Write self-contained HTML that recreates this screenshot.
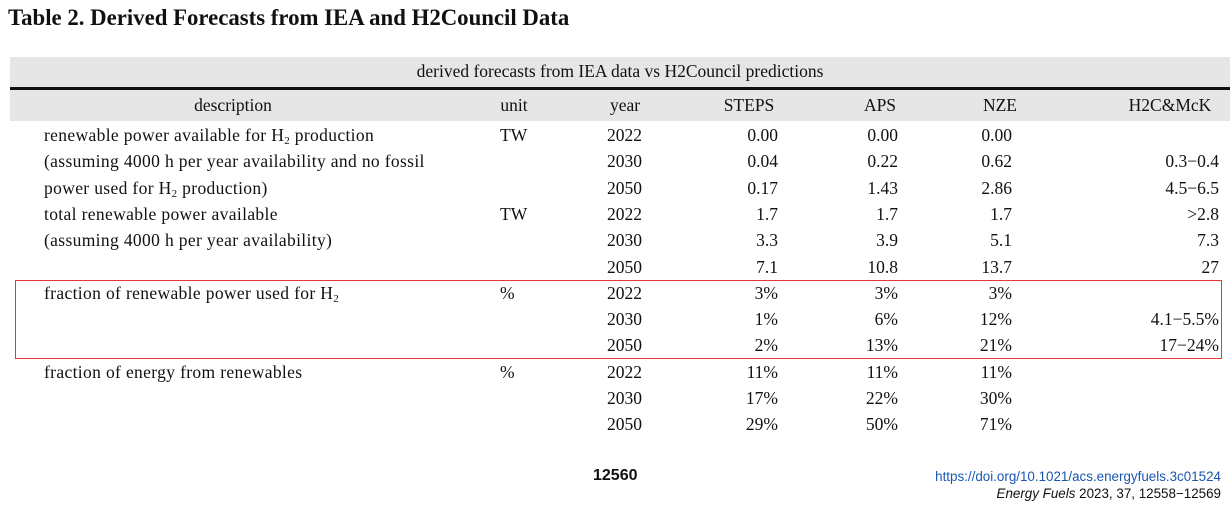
<!DOCTYPE html>
<html><head><meta charset="utf-8"><style>
body{margin:0;width:1230px;height:508px;background:#fff;position:relative;overflow:hidden;font-family:"Liberation Serif",serif;color:#111}
.a{position:absolute;white-space:nowrap;font-size:17.5px;line-height:20px}
.r{text-align:right}
.c{text-align:center}
.d{letter-spacing:0.35px}
sub{font-size:11px;vertical-align:-3px;line-height:0}
</style></head><body>
<div class="a" style="left:8px;top:5px;font-size:22.8px;font-weight:bold;line-height:26px">Table 2. Derived Forecasts from IEA and H2Council Data</div>
<div style="position:absolute;left:10px;top:57px;width:1220px;height:30px;background:#e6e6e6"></div>
<div style="position:absolute;left:10px;top:87px;width:1220px;height:3px;background:#111"></div>
<div style="position:absolute;left:10px;top:90px;width:1220px;height:31px;background:#e6e6e6"></div>
<div class="a c" style="left:10px;width:1220px;top:61px">derived forecasts from IEA data vs H2Council predictions</div>
<div class="a c" style="left:133px;width:200px;top:95px">description</div>
<div class="a c" style="left:484px;width:60px;top:95px">unit</div>
<div class="a c" style="left:595px;width:60px;top:95px">year</div>
<div class="a c" style="left:709px;width:80px;top:95px">STEPS</div>
<div class="a c" style="left:840px;width:80px;top:95px">APS</div>
<div class="a c" style="left:960px;width:80px;top:95px">NZE</div>
<div class="a c" style="left:1110px;width:120px;top:95px">H2C&amp;McK</div>
<div style="position:absolute;left:15px;top:280px;width:1205px;height:77px;border:1.5px solid #e8343a"></div>
<div id="t"></div>
<script>
const rows=[
["renewable power available for H<sub>2</sub> production","TW","2022","0.00","0.00","0.00",""],
["(assuming 4000 h per year availability and no fossil","","2030","0.04","0.22","0.62","0.3−0.4"],
["power used for H<sub>2</sub> production)","","2050","0.17","1.43","2.86","4.5−6.5"],
["total renewable power available","TW","2022","1.7","1.7","1.7","&gt;2.8"],
["(assuming 4000 h per year availability)","","2030","3.3","3.9","5.1","7.3"],
["","","2050","7.1","10.8","13.7","27"],
["fraction of renewable power used for H<sub>2</sub>","%","2022","3%","3%","3%",""],
["","","2030","1%","6%","12%","4.1−5.5%"],
["","","2050","2%","13%","21%","17−24%"],
["fraction of energy from renewables","%","2022","11%","11%","11%",""],
["","","2030","17%","22%","30%",""],
["","","2050","29%","50%","71%",""]];
let h="";
rows.forEach((r,i)=>{const y=125+i*26.3;
h+=`<div class="a d" style="left:44px;top:${y}px">${r[0]}</div>`;
h+=`<div class="a" style="left:500px;top:${y}px">${r[1]}</div>`;
h+=`<div class="a" style="left:607px;top:${y}px">${r[2]}</div>`;
h+=`<div class="a r" style="left:678px;width:100px;top:${y}px">${r[3]}</div>`;
h+=`<div class="a r" style="left:798px;width:100px;top:${y}px">${r[4]}</div>`;
h+=`<div class="a r" style="left:912px;width:100px;top:${y}px">${r[5]}</div>`;
h+=`<div class="a r" style="left:1070px;width:149px;top:${y}px">${r[6]}</div>`;});
document.getElementById("t").innerHTML=h;
</script>
<div class="a" style="left:593px;top:466px;font-family:'Liberation Sans',sans-serif;font-weight:bold;font-size:16px">12560</div>
<div class="a r" style="left:800px;width:421px;top:468px;font-family:'Liberation Sans',sans-serif;font-size:13.4px;line-height:17px;color:#1a56b0">https://doi.org/10.1021/acs.energyfuels.3c01524</div>
<div class="a r" style="left:800px;width:421px;top:485px;font-family:'Liberation Sans',sans-serif;font-size:13.4px;line-height:17px"><i>Energy Fuels</i> 2023, 37, 12558−12569</div>
</body></html>
